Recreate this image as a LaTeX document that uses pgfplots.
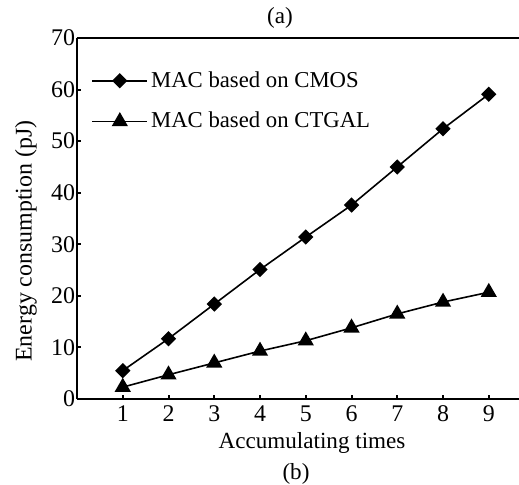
\documentclass[border=0pt]{standalone}
\usepackage{fontspec}
\setmainfont{Liberation Serif}
\usepackage{pgfplots}
\pgfplotsset{compat=1.18}
\begin{document}
\begin{tikzpicture}
\begin{axis}[
  at={(0,0)}, anchor=south west,
  scale only axis, width=221bp, height=180.5bp,
  xmin=0, xmax=9.66, ymin=0, ymax=70,
  axis x line=box, axis y line=left,
  axis line style={-, line width=1.2bp, black},
  xtick={1,...,9}, ytick={0,10,...,70},
  xtick pos=bottom, ytick pos=left,
  tick align=inside, major tick length=2.2bp,
  tick style={line width=1bp, black},
  /pgf/number format/assume math mode=true,
  tick label style={font=\fontsize{12}{14}\selectfont},
  yticklabel style={xshift=2.5bp},
  xlabel={Accumulating times},
  ylabel={Energy consumption (pJ)},
  every axis x label/.style={at={(axis description cs:0.5317,-0.1219)},anchor=center,font=\fontsize{11.6}{14}\selectfont},
  every axis y label/.style={at={(axis description cs:-0.1154,0.4377)},rotate=90,anchor=center,font=\fontsize{12}{14}\selectfont},
  legend style={draw=none, fill=none, at={(0.032,0.917)}, anchor=north west,
    font=\fontsize{11.4}{13}\selectfont, row sep=8bp, inner sep=0pt,
    nodes={inner sep=1.5bp}},
  legend cell align=left,
  legend image code/.code={\draw[mark repeat=2,mark phase=2] plot coordinates {(0bp,0bp) (13.75bp,0bp) (27.5bp,0bp)};},
  clip=false,
]
\addplot[black, line width=0.8bp, mark=square*, mark size=2.3bp, mark options={rotate=45, solid}] coordinates {
(1,5.5) (2,11.7) (3,18.4) (4,25.1) (5,31.4) (6,37.6) (7,45.0) (8,52.4) (9,59.1)
};
\addlegendentry{MAC based on CMOS}
\addplot[black, line width=0.8bp, mark=triangle*, mark size=3.9bp, mark options={solid}] coordinates {
(1,2.3) (2,4.7) (3,7.0) (4,9.3) (5,11.3) (6,13.8) (7,16.5) (8,18.8) (9,20.7)
};
\addlegendentry{MAC based on CTGAL}
\node[font=\fontsize{11.6}{14}\selectfont] at (axis description cs:0.4593,1.0554) {(a)};
\node[font=\fontsize{11.6}{14}\selectfont] at (axis description cs:0.4955,-0.2078) {(b)};
\end{axis}
\pgfresetboundingbox
\path[use as bounding box] (-38.5bp,-43bp) rectangle (221bp,199.5bp);
\end{tikzpicture}
\end{document}
